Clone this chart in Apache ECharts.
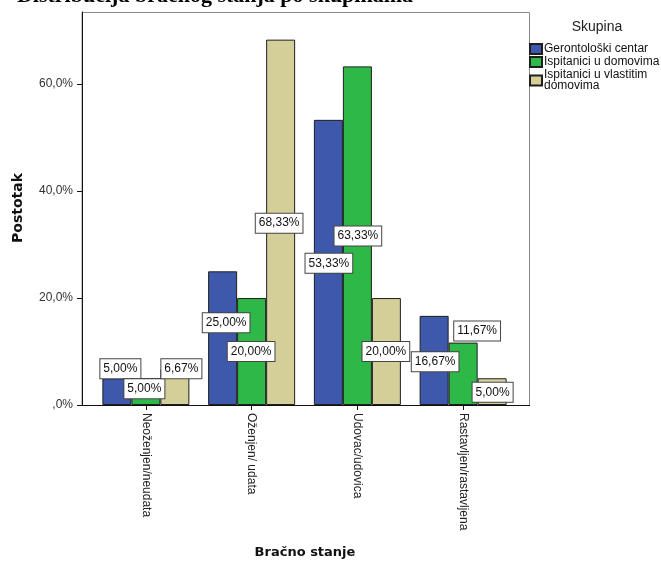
<!DOCTYPE html>
<html>
<head>
<meta charset="utf-8">
<script src="https://cdn.jsdelivr.net/npm/echarts@6/dist/echarts.min.js"></script>
<style>html,body{margin:0;padding:0;background:#fff;}#c{width:661px;height:561px;}</style>
</head>
<body>
<div id="c"></div>
<script>
// ---- data ----
const categories = ['Neoženjen/neudata', 'Oženjen/ udata', 'Udovac/udovica', 'Rastavljen/rastavljena'];
const seriesNames = ['Gerontološki centar', 'Ispitanici u domovima', 'Ispitanici u vlastitim domovima'];
const gerontoloskiCentar = [5.00, 25.00, 53.33, 16.67];
const ispitaniciDomovi = [5.00, 20.00, 63.33, 11.67];
const ispitaniciVlastiti = [6.67, 68.33, 20.00, 5.00];
const yTickValues = [0, 20, 40, 60];

// ---- layout / style (not data) ----
const colors = ['#3E58AC', '#2EB848', '#D4CF99'];
const labelOffsets = [
  [[3.5, 0], [3.5, 61], [0.5, 153], [1, 55.5]],
  [[-1.5, 20], [-0.5, 63], [0.5, 179], [14, -2]],
  [[6.5, 9], [-1.5, 193], [-0.5, 63], [0.5, 23.5]]
];
const seriesValues = [gerontoloskiCentar, ispitaniciDomovi, ispitaniciVlastiti];

const fmtPct = v => v.toFixed(2).replace('.', ',') + '%';

const chart = echarts.init(document.getElementById('c'), null, {renderer: 'canvas'});
const series = seriesValues.map((vals, si) => ({
  name: seriesNames[si],
  type: 'bar',
  barWidth: 29,
  barGap: '0%',
  itemStyle: {color: colors[si], borderColor: '#1e1e1e', borderWidth: 1},
  label: {
    show: true,
    position: 'top',
    distance: 0,
    formatter: p => fmtPct(p.value),
    backgroundColor: '#fff',
    borderColor: '#444',
    borderWidth: 1,
    padding: [2, 3, 2, 3],
    lineHeight: 15,
    fontSize: 12,
    fontFamily: 'Liberation Sans, Arial, sans-serif',
    color: '#111'
  },
  emphasis: {disabled: true},
  data: vals.map((v, i) => ({value: v, label: {offset: labelOffsets[si][i]}}))
}));

chart.setOption({
  animation: false,
  backgroundColor: '#fff',
  grid: {left: 93, right: 145, top: 12, bottom: 156},
  legend: {
    orient: 'vertical',
    left: 529,
    top: 43,
    padding: 0,
    itemWidth: 12,
    itemHeight: 10,
    itemGap: 1,
    icon: 'rect',
    data: seriesNames,
    formatter: n => n === 'Ispitanici u vlastitim domovima' ? 'Ispitanici u vlastitim\ndomovima' : n,
    textStyle: {fontSize: 12, lineHeight: 11, fontFamily: 'Liberation Sans, Arial, sans-serif', color: '#111', padding: [0, 0, 0, -3]},
    selectedMode: false
  },
  xAxis: {
    type: 'category',
    data: categories,
    axisLine: {show: false},
    axisTick: {show: true, alignWithLabel: true, length: 5, lineStyle: {color: '#111'}},
    axisLabel: {rotate: -90, margin: 8, fontSize: 12, fontFamily: 'Liberation Sans, Arial, sans-serif', color: '#222'}
  },
  yAxis: {
    type: 'value',
    min: 0,
    max: 73.5,
    offset: 11,
    splitLine: {show: false},
    axisLine: {show: true, lineStyle: {color: '#111'}},
    axisTick: {show: true, length: 5, customValues: yTickValues, lineStyle: {color: '#111'}},
    axisLabel: {
      customValues: yTickValues,
      margin: 9,
      fontSize: 12,
      fontFamily: 'Liberation Sans, Arial, sans-serif',
      color: '#333',
      formatter: v => v === 0 ? ',0%' : v.toFixed(1).replace('.', ',') + '%'
    }
  },
  graphic: [
    {type: 'polyline', silent: true, z: 0, shape: {points: [[82, 405.5], [82, 12.5], [529.5, 12.5], [529.5, 405.5]]}, style: {stroke: '#8a8a8a', lineWidth: 1, fill: null}},
    {type: 'line', silent: true, z: 10, shape: {x1: 82, y1: 405.5, x2: 530, y2: 405.5}, style: {stroke: '#111', lineWidth: 1}},
    {type: 'text', silent: true, x: 18, y: 208, rotation: Math.PI / 2, style: {text: 'Postotak', font: 'bold 14px "DejaVu Sans"', fill: '#111', textAlign: 'center', textVerticalAlign: 'middle'}},
    {type: 'text', silent: true, x: 305, y: 553, style: {text: 'Bračno stanje', font: 'bold 13px "DejaVu Sans"', fill: '#111', textAlign: 'center', textVerticalAlign: 'middle'}},
    {type: 'text', silent: true, x: 597, y: 27, style: {text: 'Skupina', font: '14px "Liberation Sans"', fill: '#222', textAlign: 'center', textVerticalAlign: 'middle'}},
    {type: 'text', silent: true, x: 215, y: -4, style: {text: 'Distribucija bračnog stanja po skupinama', font: 'bold 22px "Liberation Serif"', fill: '#000', textAlign: 'center', textVerticalAlign: 'middle'}}
  ],
  series: series
});
</script>
</body>
</html>
